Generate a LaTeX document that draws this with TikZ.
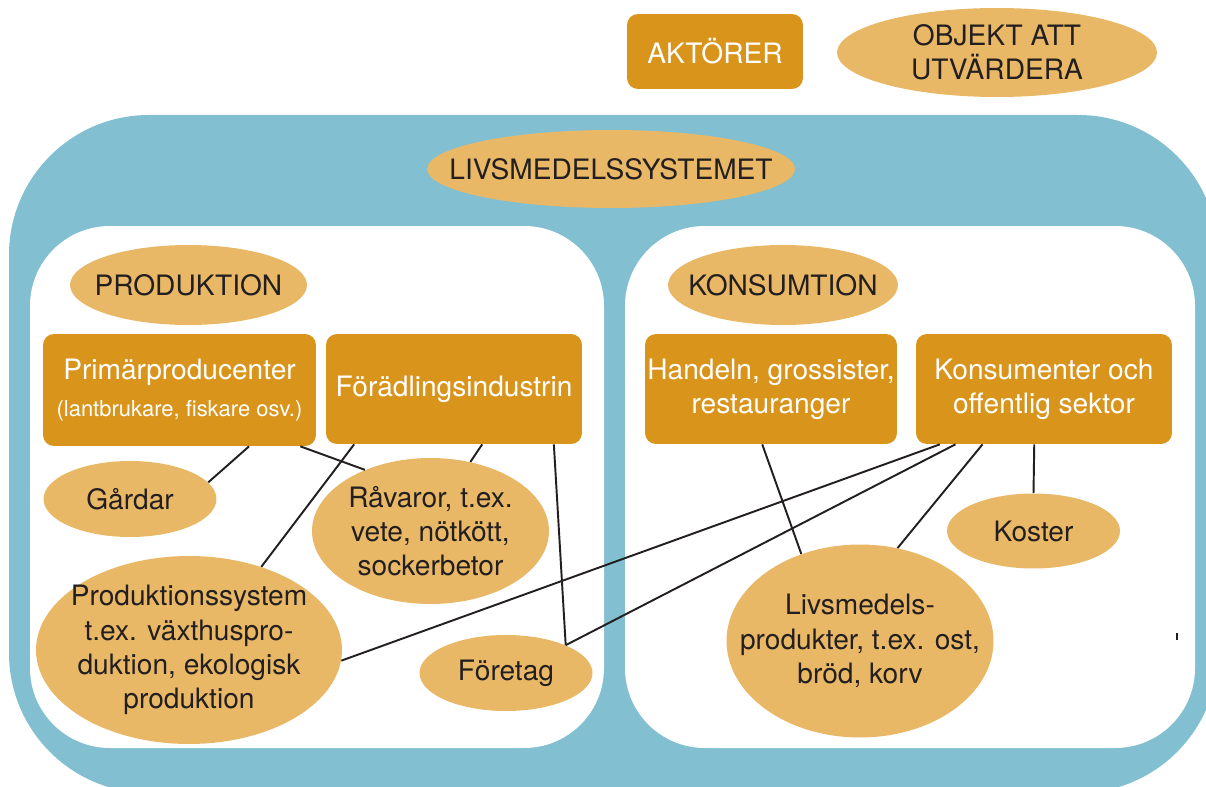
\documentclass[tikz,border=0pt]{standalone}
\usepackage{fontspec}
\setmainfont{TeX Gyre Heros}
\usetikzlibrary{shapes.geometric}
\definecolor{sysblue}{RGB}{129,191,209}
\definecolor{actorc}{RGB}{217,148,28}
\definecolor{objc}{RGB}{232,184,102}
\definecolor{inkc}{RGB}{35,31,32}

\begin{document}
\begin{tikzpicture}[x=0.02cm, y=-0.02cm,
    actor/.style={fill=actorc, rounded corners=0.22cm, text=white, align=center, inner sep=0pt, font=\fontsize{16}{19.5}\selectfont},
    objekt/.style={ellipse, fill=objc, text=inkc, align=center, inner xsep=-1cm, inner ysep=0pt, font=\fontsize{16}{19.5}\selectfont},
    panel/.style={fill=white, rounded corners=1.6cm},
    link/.style={draw=inkc, line width=1.1pt}]
  \useasboundingbox (0,0) rectangle (1206,787);
  \clip (0,0) rectangle (1206,787);
  % food system background with the two panels
  \fill[sysblue, rounded corners=2.8cm] (9,115) rectangle (1218,793);
  \fill[panel] (30,226) rectangle (604,748);
  \fill[panel] (625,226) rectangle (1195,748);
  % legend
  \node[actor, minimum width=3.52cm, minimum height=1.5cm] (akt) at (715,51.5) {AKTÖRER};
  \node[objekt, minimum width=6.4cm, minimum height=1.78cm] (obj) at (997,52.5) {OBJEKT ATT\\ UTVÄRDERA};
  \node[objekt, minimum width=7.36cm, minimum height=1.56cm] (sys) at (611,169) {LIVSMEDELSSYSTEMET};
  % production side
  \node[objekt, minimum width=4.74cm, minimum height=1.6cm] (prodhead) at (188.5,285) {PRODUKTION};
  \node[actor, minimum width=5.46cm, minimum height=2.24cm] (prim) at (179.5,390) {Primärproducenter\\[2pt] {\fontsize{12.5}{15}\selectfont (lantbrukare, fiskare osv.)}};
  \node[actor, minimum width=5.12cm, minimum height=2.2cm] (fora) at (454,389) {Förädlingsindustrin};
  \node[objekt, minimum width=3.46cm, minimum height=1.52cm] (gardar) at (130,499) {Gårdar};
  \node[objekt, minimum width=4.74cm, minimum height=2.92cm] (ravaror) at (430.5,531) {Råvaror, t.ex.\\ vete, nötkött,\\ sockerbetor};
  \node[objekt, minimum width=6.12cm, minimum height=3.76cm] (prodsys) at (189,650) {Produktionssystem\\ t.ex. växthuspro-\\ duktion, ekologisk\\ produktion};
  \node[objekt, minimum width=3.46cm, minimum height=1.52cm] (foretag) at (506,673) {Företag};
  % consumption side
  \node[objekt, minimum width=4.6cm, minimum height=1.6cm] (konshead) at (783,285) {KONSUMTION};
  \node[actor, minimum width=5.04cm, minimum height=2.2cm] (hand) at (771,389) {Handeln, grossister,\\ restauranger};
  \node[actor, minimum width=5.12cm, minimum height=2.2cm] (kons) at (1044,389) {Konsumenter och\\ offentlig sektor};
  \node[objekt, minimum width=3.46cm, minimum height=1.5cm] (koster) at (1033.5,531) {Koster};
  \node[objekt, minimum width=5.34cm, minimum height=3.86cm] (livs) at (860,641) {Livsmedels-\\ produkter, t.ex. ost,\\ bröd, korv};
  % links between actors and objects
  \draw[link] (prim.-39) -- (gardar.12);
  \draw[link] (prim.-25) -- (ravaror.137);
  \draw[link] (fora.-151) -- (prodsys.49);
  \draw[link] (fora.-63) -- (ravaror.60);
  \draw[link] (fora.-29) -- (foretag.25);
  \draw[link] (kons.-152) -- (prodsys.-4);
  \draw[link] (kons.-148) -- (foretag.25);
  \draw[link] (kons.-138) -- (livs.68);
  \draw[link] (kons.-100) -- (koster.90);
  \draw[link] (hand.-99) -- (livs.124);
  % stray tick
  \draw[inkc, line width=1.5pt] (1177,633) -- (1177,640);
\end{tikzpicture}
\end{document}
